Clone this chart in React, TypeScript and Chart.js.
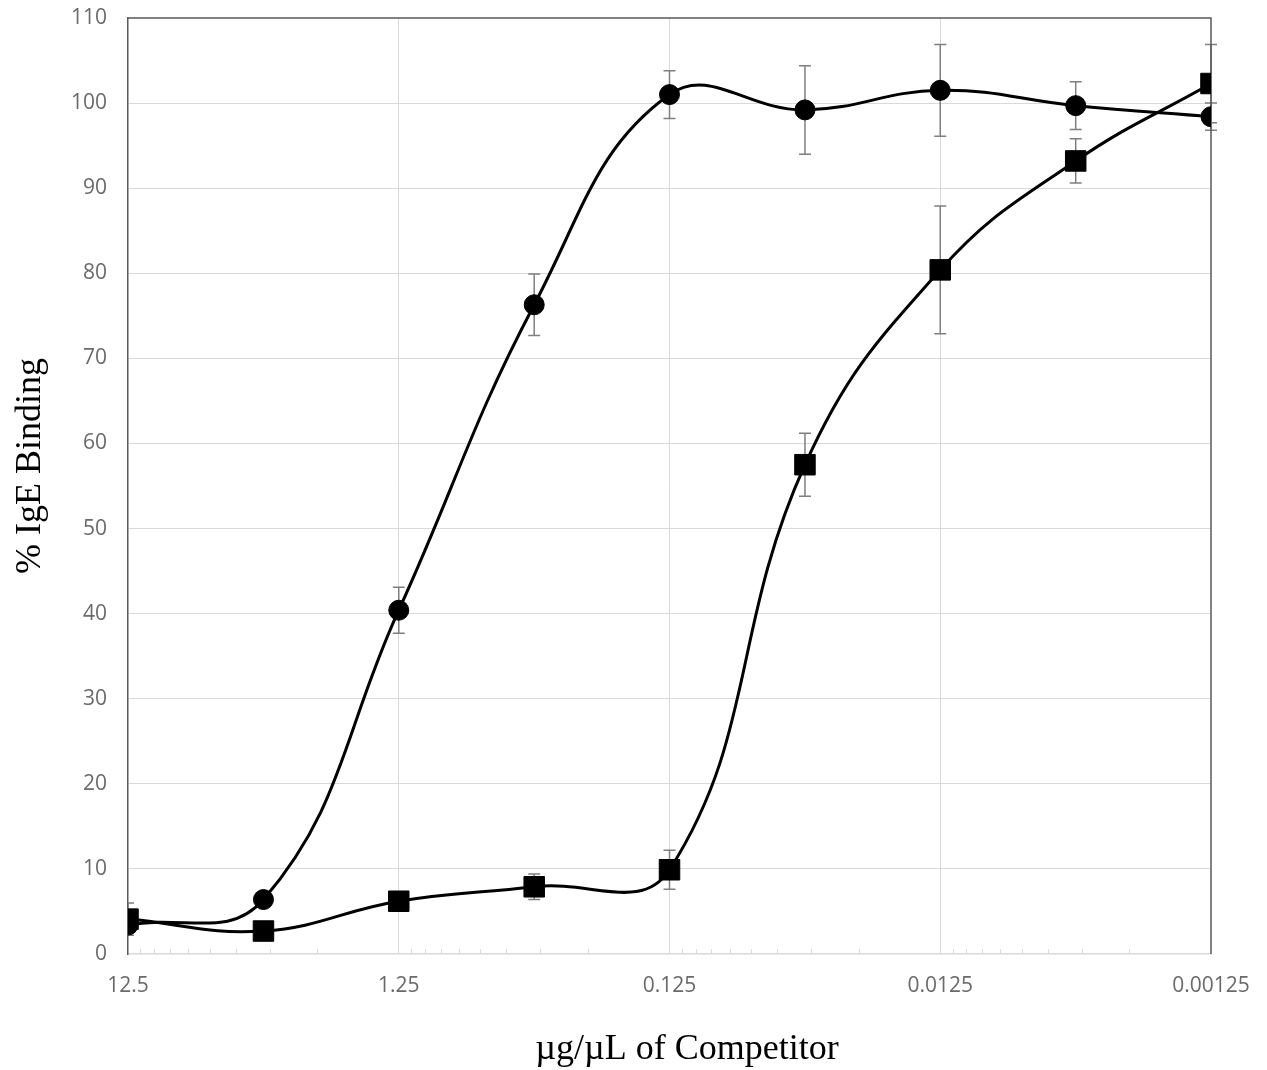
import React, { useEffect, useRef } from "react";
import { Chart, registerables } from "chart.js";

Chart.register(...registerables);

// ---- data ----
const concentrations = [12.5, 3.95, 1.25, 0.395, 0.125, 0.0395, 0.0125, 0.00395, 0.00125];
const circleValues = [3.4, 6.4, 40.4, 76.3, 101.0, 99.2, 101.5, 99.7, 98.4];
const circleErrors = [0, 0, 2.7, 3.6, 2.8, 5.2, 5.4, 2.8, 1.6];
const squareValues = [4.1, 2.7, 6.2, 7.9, 9.9, 57.5, 80.4, 93.2, 102.3];
const squareErrors = [1.9, 0, 0.8, 1.5, 2.3, 3.7, 7.5, 2.6, 4.6];

const xTickValues = [12.5, 1.25, 0.125, 0.0125, 0.00125];
const xTickLabels = ["12.5", "1.25", "0.125", "0.0125", "0.00125"];
const minorMultipliers = [2, 3, 4, 5, 6, 7, 8, 9];

const yMin = 0;
const yMax = 110;
const yStep = 10;

const xTitle = "\u00b5g/\u00b5L of Competitor";
const yTitle = "% IgE Binding";

const GRID = "#d9d9d9";
const BORDER = "#595959";
const TICK_TEXT = "#6a6a6a";
const ERR = "#7f7f7f";

const errorBarPlugin = {
  id: "errorBars",
  beforeDatasetsDraw(chart: any) {
    const { ctx, chartArea } = chart;
    const xs = chart.scales.x;
    const ys = chart.scales.y;
    const errs = [squareErrors, circleErrors];
    ctx.save();
    ctx.beginPath();
    ctx.rect(chartArea.left, chartArea.top - 30, chartArea.right - chartArea.left + 30, chartArea.bottom - chartArea.top + 30);
    ctx.clip();
    ctx.strokeStyle = ERR;
    ctx.lineWidth = 1.5;
    chart.data.datasets.forEach((ds: any, i: number) => {
      ds.data.forEach((p: any, j: number) => {
        const e = errs[i][j];
        if (!e) return;
        const x = xs.getPixelForValue(p.x);
        const y1 = ys.getPixelForValue(p.y + e);
        const y2 = ys.getPixelForValue(p.y - e);
        ctx.beginPath();
        ctx.moveTo(x, y1);
        ctx.lineTo(x, y2);
        ctx.moveTo(x - 6, y1);
        ctx.lineTo(x + 6, y1);
        ctx.moveTo(x - 6, y2);
        ctx.lineTo(x + 6, y2);
        ctx.stroke();
      });
    });
    ctx.restore();
  },
};

const framePlugin = {
  id: "frame",
  beforeDatasetsDraw(chart: any) {
    const { ctx, chartArea } = chart;
    const xs = chart.scales.x;
    ctx.save();
    // minor ticks on x axis (inside plot)
    ctx.strokeStyle = GRID;
    ctx.lineWidth = 1;
    for (let d = 0; d < xTickValues.length - 1; d++) {
      const base = xTickValues[d + 1];
      minorMultipliers.forEach((m) => {
        const x = Math.round(xs.getPixelForValue(base * m)) + 0.5;
        ctx.beginPath();
        ctx.moveTo(x, chartArea.bottom);
        ctx.lineTo(x, chartArea.bottom - 5);
        ctx.stroke();
      });
    }
    // top and right plot border
    ctx.strokeStyle = BORDER;
    ctx.lineWidth = 1.5;
    ctx.beginPath();
    ctx.moveTo(chartArea.left, chartArea.top);
    ctx.lineTo(chartArea.right, chartArea.top);
    ctx.lineTo(chartArea.right, chartArea.bottom);
    ctx.stroke();
    ctx.restore();
  },
  afterDraw(chart: any) {
    const { ctx } = chart;
    ctx.save();
    ctx.fillStyle = "#000";
    ctx.font = '36px "Liberation Serif", "Times New Roman", serif';
    ctx.textAlign = "center";
    ctx.textBaseline = "middle";
    ctx.fillText(xTitle, 687, 1050);
    ctx.translate(31, 466);
    ctx.rotate(-Math.PI / 2);
    ctx.fillText(yTitle, 0, 0);
    ctx.restore();
  },
};

export default function App() {
  const ref = useRef<HTMLCanvasElement | null>(null);

  useEffect(() => {
    if (!ref.current) return;
    const squares = concentrations.map((c, i) => ({ x: c, y: squareValues[i] }));
    const circles = concentrations.map((c, i) => ({ x: c, y: circleValues[i] }));
    const chart = new Chart(ref.current, {
      type: "line",
      data: {
        datasets: [
          {
            label: "Squares",
            data: squares,
            borderColor: "#000",
            backgroundColor: "#000",
            borderWidth: 3,
            tension: 0.42,
            pointStyle: "rect",
            pointRadius: 14.5,
            pointBorderWidth: 1,
            pointBackgroundColor: "#000",
            pointBorderColor: "#000",
          },
          {
            label: "Circles",
            data: circles,
            borderColor: "#000",
            backgroundColor: "#000",
            borderWidth: 3,
            tension: 0.42,
            pointStyle: "circle",
            pointRadius: 10,
            pointBorderWidth: 1,
            pointBackgroundColor: "#000",
            pointBorderColor: "#000",
          },
        ],
      },
      plugins: [errorBarPlugin, framePlugin],
      options: {
        animation: false,
        responsive: false,
        maintainAspectRatio: false,
        devicePixelRatio: 1,
        layout: { autoPadding: false, padding: { top: 18, right: 56, left: 0, bottom: 0 } },
        plugins: {
          legend: { display: false },
          tooltip: { enabled: false },
        },
        scales: {
          x: {
            type: "logarithmic",
            reverse: true,
            min: xTickValues[xTickValues.length - 1],
            max: xTickValues[0],
            bounds: "data",
            afterBuildTicks: (scale: any) => {
              scale.ticks = xTickValues.map((v) => ({ value: v, major: true }));
            },
            afterFit: (scale: any) => {
              scale.height = 116;
              scale.paddingLeft = 0;
              scale.paddingRight = 0;
            },
            ticks: {
              autoSkip: false,
              maxRotation: 0,
              padding: 19,
              color: TICK_TEXT,
              font: { family: '"Open Sans", sans-serif', size: 21 },
              callback: (v: any) => {
                const i = xTickValues.indexOf(Number(v));
                return i >= 0 ? xTickLabels[i] : "";
              },
            },
            grid: {
              drawTicks: false,
              lineWidth: 1,
              color: (c: any) => {
                const v = c.tick ? c.tick.value : null;
                if (v === xTickValues[0] || v === xTickValues[xTickValues.length - 1]) return "rgba(0,0,0,0)";
                return GRID;
              },
            },
            border: { display: true, color: GRID, width: 1.5 },
          },
          y: {
            type: "linear",
            min: yMin,
            max: yMax,
            afterFit: (scale: any) => {
              scale.width = 128;
              scale.paddingTop = 0;
              scale.paddingBottom = 0;
            },
            ticks: {
              stepSize: yStep,
              padding: 21,
              color: TICK_TEXT,
              font: { family: '"Open Sans", sans-serif', size: 21 },
            },
            grid: {
              drawTicks: false,
              lineWidth: 1,
              color: (c: any) => {
                const v = c.tick ? c.tick.value : null;
                if (v === yMax || v === yMin) return "rgba(0,0,0,0)";
                return GRID;
              },
            },
            border: { display: true, color: BORDER, width: 1.5 },
          },
        },
      },
    } as any);
    return () => chart.destroy();
  }, []);

  return (
    <div style={{ position: "fixed", left: 0, top: 0, width: 1267, height: 1070, background: "#fff" }}>
      <canvas ref={ref} width={1267} height={1070} style={{ display: "block" }} />
    </div>
  );
}
